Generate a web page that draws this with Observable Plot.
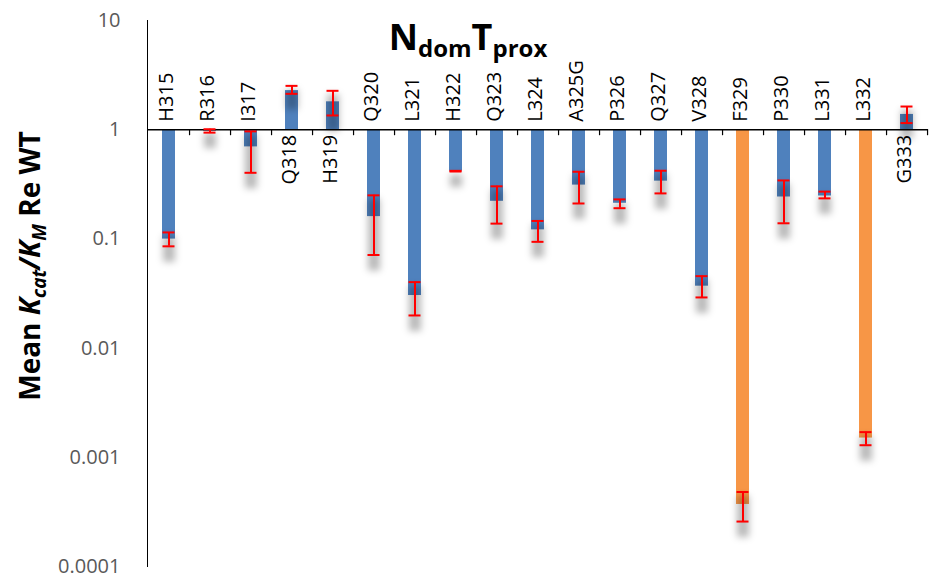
<!DOCTYPE html>
<html>
<head>
<meta charset="utf-8">
<script src="https://cdn.jsdelivr.net/npm/d3@7"></script>
<script src="https://cdn.jsdelivr.net/npm/@observablehq/plot@0.6"></script>
<style>
  html, body { margin: 0; padding: 0; background: #fff; }
  #chart { position: relative; width: 930px; height: 579px; }
  g[aria-label="y-axis tick label"] { fill: #595959; }
</style>
</head>
<body>
<div id="chart"></div>
<script>
// ---- data ----
const categories = ["H315","R316","I317","Q318","H319","Q320","L321","H322","Q323","L324","A325G","P326","Q327","V328","F329","P330","L331","L332","G333"];
const meanValues = [0.0996,0.97,0.696,2.28,1.80,0.160,0.0303,0.417,0.221,0.121,0.311,0.212,0.338,0.0369,0.00037,0.242,0.247,0.00150,1.38];
const errLow     = [0.0855,0.94,0.403,2.13,1.35,0.0712,0.0199,0.414,0.138,0.094,0.211,0.191,0.261,0.0291,0.000258,0.139,0.235,0.00129,1.15];
const errHigh    = [0.1146,1.01,0.965,2.52,2.27,0.2505,0.0402,0.420,0.303,0.146,0.412,0.230,0.421,0.0456,0.000481,0.343,0.271,0.00170,1.63];
const highlighted = ["F329","L332"];
const yTicks = [10, 1, 0.1, 0.01, 0.001, 0.0001];

const data = categories.map((c, i) => ({cat: c, value: meanValues[i], lo: errLow[i], hi: errHigh[i]}));

const W = 930, H = 579, ML = 147, MR = 2, MT = 20, MB = 13;
const half = (W - ML - MR) / categories.length / 2;
const pxPerDecade = (H - MT - MB) / 5;
const tickEnd = Math.pow(10, -6 / pxPerDecade); // x-axis tick marks, 6px long below the axis at 1

const svg = Plot.plot({
  width: W, height: H,
  marginLeft: ML, marginRight: MR, marginTop: MT, marginBottom: MB,
  style: {fontFamily: "'Open Sans', sans-serif", fontSize: "20px", background: "white"},
  x: {domain: categories, padding: 0, axis: null},
  y: {type: "log", domain: [0.0001, 10], axis: "left", line: true, ticks: yTicks,
      tickSize: 0, tickPadding: 27, tickFormat: d => String(d), label: null},
  marks: [
    Plot.barY(data, {x: "cat", y1: 1, y2: "value", insetLeft: 14, insetRight: 14,
      fill: d => highlighted.includes(d.cat) ? "#F79646" : "#4F81BD"}),
    Plot.ruleX(data, {x: "cat", y1: "lo", y2: "hi", dy: 10, stroke: "#000", strokeOpacity: 0.27,
      strokeWidth: 12, strokeLinecap: "square", ariaDescription: "shadow"}),
    Plot.ruleY([1], {stroke: "#000", strokeWidth: 1.5}),
    Plot.ruleX(categories, {x: d => d, y1: 1, y2: tickEnd, dx: half, stroke: "#000", strokeWidth: 1.2}),
    Plot.ruleX(data, {x: "cat", y1: "lo", y2: "hi", stroke: "#FF0000", strokeWidth: 2}),
    Plot.tickY(data, {x: "cat", y: "lo", stroke: "#FF0000", strokeWidth: 2, insetLeft: 14.5, insetRight: 14.5}),
    Plot.tickY(data, {x: "cat", y: "hi", stroke: "#FF0000", strokeWidth: 2, insetLeft: 14.5, insetRight: 14.5}),
    Plot.text(data.filter(d => d.value < 1), {x: "cat", y: 1, text: "cat", rotate: -90, textAnchor: "start",
      lineAnchor: "middle", dy: -8, dx: -2, fill: "#000", fontSize: 20}),
    Plot.text(data.filter(d => d.value >= 1), {x: "cat", y: 1, text: "cat", rotate: -90, textAnchor: "end",
      lineAnchor: "middle", dy: 5, dx: -2, fill: "#000", fontSize: 20})
  ]
});

const s = d3.select(svg);
// y-axis line in black, 1.5px
s.selectAll('g[aria-label="y-axis line"], g[aria-label="y-axis line"] *').attr("stroke", "#000").attr("stroke-width", 1.5);

// blur filter for the error-bar shadows
const defs = s.insert("defs", ":first-child");
defs.append("filter").attr("id", "blurShadow")
  .attr("filterUnits", "userSpaceOnUse").attr("x", 0).attr("y", 0).attr("width", W).attr("height", H)
  .append("feGaussianBlur").attr("stdDeviation", 3.5);
s.select('g[aria-description="shadow"]').attr("filter", "url(#blurShadow)");

// chart title
const t = s.append("text").attr("x", 468).attr("y", 50).attr("text-anchor", "middle")
  .attr("font-family", "'Open Sans', sans-serif").attr("font-weight", "bold").attr("font-size", 36).attr("fill", "#000");
t.append("tspan").text("N");
t.append("tspan").attr("font-size", 24).attr("dy", 7).text("dom");
t.append("tspan").attr("dy", -7).text("T");
t.append("tspan").attr("font-size", 24).attr("dy", 7).text("prox");

// y-axis title
const yl = s.append("text").attr("transform", "translate(40,266) rotate(-90)").attr("text-anchor", "middle")
  .attr("font-family", "'Open Sans', sans-serif").attr("font-weight", "bold").attr("font-size", 28).attr("fill", "#000");
yl.append("tspan").text("Mean ");
yl.append("tspan").attr("font-style", "italic").text("K");
yl.append("tspan").attr("font-style", "italic").attr("font-size", 19).attr("dy", 6).text("cat");
yl.append("tspan").attr("font-style", "italic").attr("dy", -6).text("/K");
yl.append("tspan").attr("font-style", "italic").attr("font-size", 19).attr("dy", 6).text("M");
yl.append("tspan").attr("dy", -6).text(" Re WT");

document.getElementById("chart").appendChild(svg);
</script>
</body>
</html>
